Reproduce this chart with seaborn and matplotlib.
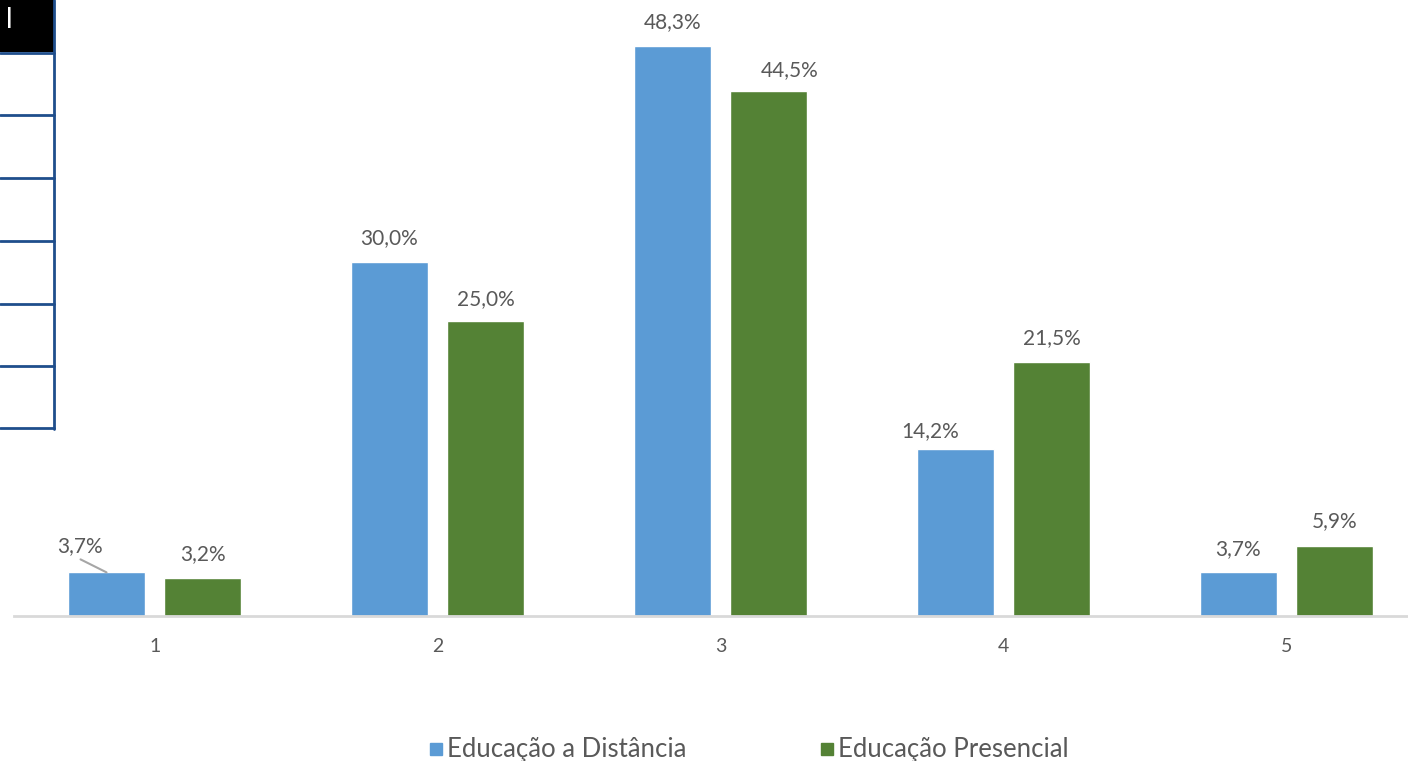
import matplotlib
matplotlib.use("Agg")
import matplotlib.pyplot as plt
import seaborn as sns
import pandas as pd
from matplotlib.lines import Line2D
from matplotlib.patches import Rectangle

categories = ["1", "2", "3", "4", "5"]
series_names = ["Educação a Distância", "Educação Presencial"]
ead_values = [3.7, 30.0, 48.3, 14.2, 3.7]
pres_values = [3.2, 25.0, 44.5, 21.5, 5.9]
colors = ["#5B9BD5", "#548235"]

df = pd.DataFrame({
    "cat": categories * 2,
    "val": ead_values + pres_values,
    "serie": [series_names[0]] * 5 + [series_names[1]] * 5,
})

sns.set_theme(style="white")
plt.rcParams["font.family"] = ["Lato", "DejaVu Sans"]

W, H = 1408, 761
fig = plt.figure(figsize=(W / 100, H / 100), dpi=100)
ax = fig.add_axes([14 / W, 145 / H, 1 - 14 / W, 612 / H])

sns.barplot(data=df, x="cat", y="val", hue="serie", palette=colors,
            width=0.68, gap=0.2, ax=ax, legend=False, saturation=1)

ax.set_xlim(-0.497, 4.43)
ax.set_ylim(0, 51.9)
ax.set_xlabel("")
ax.set_ylabel("")
ax.set_yticks([])
for s in ["top", "right", "left"]:
    ax.spines[s].set_visible(False)
ax.spines["bottom"].set_color("#D9D9D9")
ax.spines["bottom"].set_linewidth(2)
ax.tick_params(axis="x", length=0, pad=16, labelsize=14, labelcolor="#595959")

# label offsets in pixels (dx, dy) relative to bar top center
offsets_ead = [(-27, 26), (0, 24), (0, 24), (-25, 17), (0, 23)]
offsets_pres = [(0, 24), (0, 22), (21, 21), (0, 24), (0, 25)]

bars = ax.patches
label_color = "#595959"
for i, p in enumerate(bars[:10]):
    x = p.get_x() + p.get_width() / 2
    h = p.get_height()
    if i < 5:
        val = ead_values[i]
        dx, dy = offsets_ead[i]
    else:
        val = pres_values[i - 5]
        dx, dy = offsets_pres[i - 5]
    txt = f"{val:.1f}%".replace(".", ",")
    ax.annotate(txt, (x, h), xytext=(dx, dy), textcoords="offset pixels",
                ha="center", va="center", fontsize=15, color=label_color,
                annotation_clip=False)

# leader line for first label
p0 = bars[0]
ax.annotate("", xy=(p0.get_x() + p0.get_width() / 2, p0.get_height()),
            xytext=(-26, 13), textcoords="offset pixels",
            arrowprops=dict(arrowstyle="-", color="#A6A6A6", lw=1.5,
                            shrinkA=0, shrinkB=0))

# legend
handles = [Line2D([], [], marker="s", linestyle="none", markersize=9,
                  markerfacecolor=c, markeredgecolor=c) for c in colors]
leg = fig.legend(handles, series_names, loc="center",
                 bbox_to_anchor=(747 / W, 1 - 750 / H), ncol=2, frameon=False,
                 fontsize=18.5, handletextpad=0.05, columnspacing=5.05,
                 handlelength=0.8, labelcolor="#595959")

# table fragment at top-left
blue = "#1F4E8C"
fig.add_artist(Rectangle((0, 1 - 52 / H), 54 / W, 52 / H, transform=fig.transFigure,
                         facecolor="black", edgecolor="none"))
fig.text(6 / W, 1 - 20 / H, "l", color="white", fontsize=20, va="center",
         ha="left")
fig.add_artist(Line2D([54 / W, 54 / W], [1, 1 - 429 / H], transform=fig.transFigure,
                      color=blue, lw=2))
for yy in [53, 115, 178, 241, 304, 366, 428]:
    fig.add_artist(Line2D([0, 54 / W], [1 - yy / H, 1 - yy / H],
                          transform=fig.transFigure, color=blue, lw=2))

fig.savefig("out.png", dpi=100)
